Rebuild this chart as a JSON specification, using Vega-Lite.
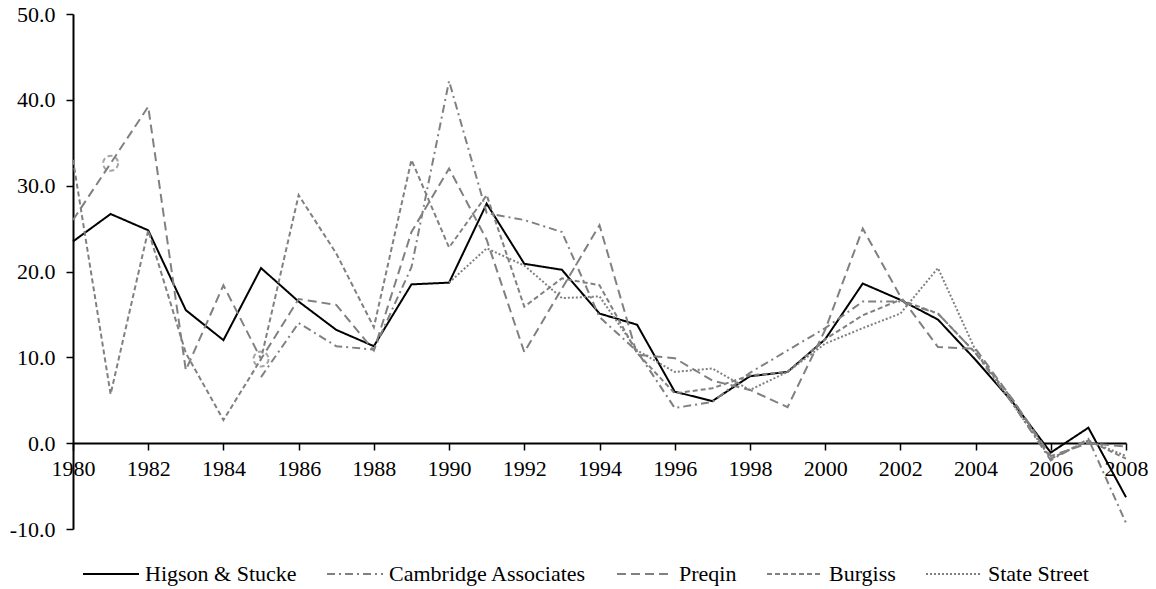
{
  "$schema": "https://vega.github.io/schema/vega-lite/v6.json",
  "width": 1053,
  "height": 515,
  "autosize": {"type": "none"},
  "padding": {"left": 73, "top": 14, "right": 30, "bottom": 60},
  "background": "white",
  "config": {
    "view": {"stroke": null},
    "font": "Liberation Serif",
    "axis": {"labelFont": "Liberation Serif", "labelFontSize": 22, "labelColor": "black", "domainColor": "black", "tickColor": "black", "domainWidth": 2, "tickWidth": 1.5, "grid": false, "title": null},
    "legend": {"labelFont": "Liberation Serif", "labelFontSize": 22, "labelColor": "black", "labelLimit": 400}
  },
  "data": {"values": [
    {"year":1980,"series":"Higson & Stucke","value":23.5},{"year":1981,"series":"Higson & Stucke","value":26.7},{"year":1982,"series":"Higson & Stucke","value":24.8},{"year":1983,"series":"Higson & Stucke","value":15.5},{"year":1984,"series":"Higson & Stucke","value":12.0},{"year":1985,"series":"Higson & Stucke","value":20.4},{"year":1986,"series":"Higson & Stucke","value":16.5},{"year":1987,"series":"Higson & Stucke","value":13.2},{"year":1988,"series":"Higson & Stucke","value":11.3},{"year":1989,"series":"Higson & Stucke","value":18.5},{"year":1990,"series":"Higson & Stucke","value":18.7},{"year":1991,"series":"Higson & Stucke","value":27.9},{"year":1992,"series":"Higson & Stucke","value":20.9},{"year":1993,"series":"Higson & Stucke","value":20.2},{"year":1994,"series":"Higson & Stucke","value":15.1},{"year":1995,"series":"Higson & Stucke","value":13.8},{"year":1996,"series":"Higson & Stucke","value":6.0},{"year":1997,"series":"Higson & Stucke","value":4.9},{"year":1998,"series":"Higson & Stucke","value":7.8},{"year":1999,"series":"Higson & Stucke","value":8.3},{"year":2000,"series":"Higson & Stucke","value":12.1},{"year":2001,"series":"Higson & Stucke","value":18.6},{"year":2002,"series":"Higson & Stucke","value":16.7},{"year":2003,"series":"Higson & Stucke","value":14.4},{"year":2004,"series":"Higson & Stucke","value":9.7},{"year":2005,"series":"Higson & Stucke","value":4.7},{"year":2006,"series":"Higson & Stucke","value":-1.1},{"year":2007,"series":"Higson & Stucke","value":1.8},{"year":2008,"series":"Higson & Stucke","value":-6.3},

    {"year":1985,"series":"Cambridge Associates","value":7.7},{"year":1986,"series":"Cambridge Associates","value":14.0},{"year":1987,"series":"Cambridge Associates","value":11.3},{"year":1988,"series":"Cambridge Associates","value":10.9},{"year":1989,"series":"Cambridge Associates","value":20.5},{"year":1990,"series":"Cambridge Associates","value":42.2},{"year":1991,"series":"Cambridge Associates","value":26.8},{"year":1992,"series":"Cambridge Associates","value":26.0},{"year":1993,"series":"Cambridge Associates","value":24.6},{"year":1994,"series":"Cambridge Associates","value":14.7},{"year":1995,"series":"Cambridge Associates","value":10.7},{"year":1996,"series":"Cambridge Associates","value":4.1},{"year":1997,"series":"Cambridge Associates","value":4.8},{"year":1998,"series":"Cambridge Associates","value":8.2},{"year":1999,"series":"Cambridge Associates","value":10.8},{"year":2000,"series":"Cambridge Associates","value":13.4},{"year":2001,"series":"Cambridge Associates","value":16.5},{"year":2002,"series":"Cambridge Associates","value":16.5},{"year":2003,"series":"Cambridge Associates","value":15.1},{"year":2004,"series":"Cambridge Associates","value":10.5},{"year":2005,"series":"Cambridge Associates","value":4.5},{"year":2006,"series":"Cambridge Associates","value":-2.0},{"year":2007,"series":"Cambridge Associates","value":0.5},{"year":2008,"series":"Cambridge Associates","value":-9.3},

    {"year":1980,"series":"Preqin","value":26.0},{"year":1981,"series":"Preqin","value":32.6},{"year":1982,"series":"Preqin","value":39.2},{"year":1983,"series":"Preqin","value":8.5},{"year":1984,"series":"Preqin","value":18.4},{"year":1985,"series":"Preqin","value":9.8},{"year":1986,"series":"Preqin","value":16.8},{"year":1987,"series":"Preqin","value":16.1},{"year":1988,"series":"Preqin","value":10.8},{"year":1989,"series":"Preqin","value":24.6},{"year":1990,"series":"Preqin","value":32.0},{"year":1991,"series":"Preqin","value":23.7},{"year":1992,"series":"Preqin","value":10.6},{"year":1993,"series":"Preqin","value":18.0},{"year":1994,"series":"Preqin","value":25.4},{"year":1995,"series":"Preqin","value":10.3},{"year":1996,"series":"Preqin","value":9.9},{"year":1997,"series":"Preqin","value":7.3},{"year":1998,"series":"Preqin","value":6.2},{"year":1999,"series":"Preqin","value":4.2},{"year":2000,"series":"Preqin","value":13.2},{"year":2001,"series":"Preqin","value":25.0},{"year":2002,"series":"Preqin","value":17.1},{"year":2003,"series":"Preqin","value":11.2},{"year":2004,"series":"Preqin","value":11.0},{"year":2005,"series":"Preqin","value":5.0},{"year":2006,"series":"Preqin","value":-1.5},{"year":2007,"series":"Preqin","value":0.0},{"year":2008,"series":"Preqin","value":-0.4},

    {"year":1980,"series":"Burgiss","value":33.0},{"year":1981,"series":"Burgiss","value":5.7},{"year":1982,"series":"Burgiss","value":24.8},{"year":1983,"series":"Burgiss","value":10.5},{"year":1984,"series":"Burgiss","value":2.7},{"year":1985,"series":"Burgiss","value":9.8},{"year":1986,"series":"Burgiss","value":28.9},{"year":1987,"series":"Burgiss","value":22.1},{"year":1988,"series":"Burgiss","value":13.5},{"year":1989,"series":"Burgiss","value":33.0},{"year":1990,"series":"Burgiss","value":22.8},{"year":1991,"series":"Burgiss","value":28.9},{"year":1992,"series":"Burgiss","value":15.9},{"year":1993,"series":"Burgiss","value":19.2},{"year":1994,"series":"Burgiss","value":18.4},{"year":1995,"series":"Burgiss","value":10.5},{"year":1996,"series":"Burgiss","value":5.8},{"year":1997,"series":"Burgiss","value":6.4},{"year":1998,"series":"Burgiss","value":7.9},{"year":1999,"series":"Burgiss","value":8.3},{"year":2000,"series":"Burgiss","value":12.1},{"year":2001,"series":"Burgiss","value":14.9},{"year":2002,"series":"Burgiss","value":16.7},{"year":2003,"series":"Burgiss","value":15.1},{"year":2004,"series":"Burgiss","value":10.5},{"year":2005,"series":"Burgiss","value":5.0},{"year":2006,"series":"Burgiss","value":-1.8},{"year":2007,"series":"Burgiss","value":0.3},{"year":2008,"series":"Burgiss","value":-1.8},

    {"year":1990,"series":"State Street","value":18.7},{"year":1991,"series":"State Street","value":22.7},{"year":1992,"series":"State Street","value":20.7},{"year":1993,"series":"State Street","value":16.9},{"year":1994,"series":"State Street","value":17.1},{"year":1995,"series":"State Street","value":10.8},{"year":1996,"series":"State Street","value":8.3},{"year":1997,"series":"State Street","value":8.7},{"year":1998,"series":"State Street","value":6.2},{"year":1999,"series":"State Street","value":8.3},{"year":2000,"series":"State Street","value":11.6},{"year":2001,"series":"State Street","value":13.4},{"year":2002,"series":"State Street","value":15.1},{"year":2003,"series":"State Street","value":20.4},{"year":2004,"series":"State Street","value":10.8},{"year":2005,"series":"State Street","value":4.5},{"year":2006,"series":"State Street","value":-1.8},{"year":2007,"series":"State Street","value":0.3},{"year":2008,"series":"State Street","value":-1.5}
  ]},
  "layer": [
    {
      "mark": {"type": "line", "strokeWidth": 2},
      "encoding": {
        "x": {"field": "year", "type": "quantitative", "scale": {"domain": [1980, 2008], "nice": false, "zero": false},
          "axis": {"offset": -86, "values": [1980,1981,1982,1983,1984,1985,1986,1987,1988,1989,1990,1991,1992,1993,1994,1995,1996,1997,1998,1999,2000,2001,2002,2003,2004,2005,2006,2007,2008], "labelExpr": "datum.value % 2 == 0 ? datum.value : ''", "labelFlush": false, "labelOverlap": false, "tickSize": 7, "labelPadding": 8}},
        "y": {"field": "value", "type": "quantitative", "scale": {"domain": [-10, 50], "nice": false},
          "axis": {"values": [-10, 0, 10, 20, 30, 40, 50], "labelExpr": "(datum.value < 0 ? '-' : '') + format(abs(datum.value), '.1f')", "tickSize": 7, "labelPadding": 11}},
        "color": {"field": "series", "type": "nominal",
          "scale": {"domain": ["Higson & Stucke", "Cambridge Associates", "Preqin", "Burgiss", "State Street"], "range": ["#000000", "#808080", "#808080", "#808080", "#808080"]},
          "legend": {"orient": "none", "legendX": 9, "legendY": 531, "direction": "horizontal", "columns": 5, "title": null, "symbolType": "stroke", "symbolSize": 3136, "symbolStrokeWidth": 2, "labelOffset": 5, "columnPadding": 26, "padding": 0, "labelFontSize": 22, "labelFont": "Liberation Serif", "labelLimit": 400}},
        "strokeDash": {"field": "series", "type": "nominal",
          "scale": {"domain": ["Higson & Stucke", "Cambridge Associates", "Preqin", "Burgiss", "State Street"], "range": [[1, 0], [8, 4, 2, 4], [9, 5], [5, 3], [2, 2]]},
          "legend": {"orient": "none", "legendX": 9, "legendY": 531, "direction": "horizontal", "columns": 5, "title": null, "symbolType": "stroke", "symbolSize": 3136, "symbolStrokeWidth": 2, "labelOffset": 5, "columnPadding": 26, "padding": 0, "labelFontSize": 22, "labelFont": "Liberation Serif", "labelLimit": 400}},
        "order": {"field": "year", "type": "quantitative"}
      }
    },
    {
      "transform": [{"filter": "datum.series == 'Preqin' && (datum.year == 1981 || datum.year == 1985)"}],
      "mark": {"type": "point", "shape": "circle", "size": 225, "filled": false, "stroke": "#808080", "strokeWidth": 2, "strokeDash": [5, 3]},
      "encoding": {
        "x": {"field": "year", "type": "quantitative"},
        "y": {"field": "value", "type": "quantitative"}
      }
    }
  ]
}
